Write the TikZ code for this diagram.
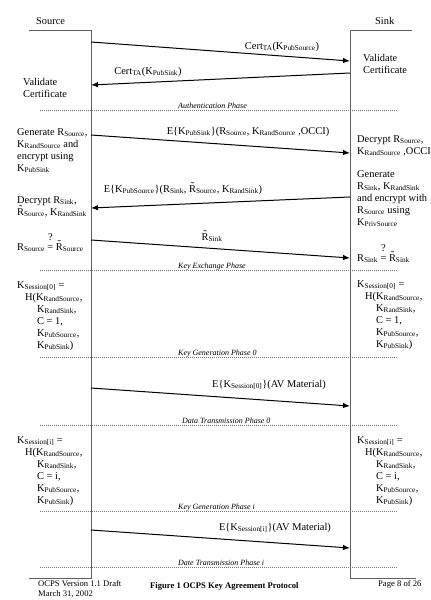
\documentclass[tikz,border=0pt]{standalone}
\usepackage{fontspec}
\setmainfont{Liberation Serif}
\usetikzlibrary{arrows.meta}
\newcommand\sbs[1]{\textsubscript{#1}}
\newcommand\tR{\ooalign{R\cr\hidewidth\raisebox{0.22em}{\char"02DC}\hidewidth\cr}}
\newcommand\qeq{\ooalign{=\cr\hidewidth\raisebox{0.95em}{?}\hidewidth\cr}}
\definecolor{lifegray}{RGB}{95,95,95}
\definecolor{phasegray}{RGB}{120,120,120}
\tikzset{
  life/.style={draw=lifegray, line width=0.9pt},
  msg/.style={draw=black, line width=1pt, -{Latex[length=7pt,width=5.5pt]}},
  phase/.style={draw=phasegray, line width=0.6pt, dash pattern=on 1pt off 1pt},
  txt/.style={font=\fontsize{10.4}{12}\selectfont, inner sep=0pt, align=left, anchor=north west},
  txtb/.style={font=\fontsize{10.4}{12}\selectfont, inner sep=0pt, anchor=base west},
  mlbl/.style={font=\fontsize{10.4}{12}\selectfont, inner sep=0pt, anchor=base},
  plbl/.style={font=\fontsize{8}{9}\selectfont\itshape, inner sep=0pt, anchor=base west},
  foot/.style={font=\fontsize{8.6}{10}\selectfont, inner sep=0pt, anchor=base west, align=left},
}
\begin{document}
\begin{tikzpicture}[x=1pt,y=-1pt]
\useasboundingbox[fill=white] (0,0) rectangle (431,600);

% headers
\node[txtb] (hsrc) at (36,24) {Source};
\node[txtb] (hsnk) at (375,24) {Sink};

% lifelines
\coordinate (srcTL) at (29,30); \coordinate (srcT) at (91,30);
\coordinate (srcB) at (91,578); \coordinate (srcBL) at (29,578);
\coordinate (snkT) at (350,30); \coordinate (snkTR) at (412,30);
\coordinate (snkB) at (350,578); \coordinate (snkBR) at (416,578);
\draw[life] (srcTL) -- (srcT) -- (srcB) -- (srcBL);
\draw[life] (snkTR) -- (snkT) -- (snkB) -- (snkBR);

% message end points
\coordinate (m1s) at (91,42);  \coordinate (m1e) at (350,61);
\coordinate (m2s) at (350,73); \coordinate (m2e) at (91,85);
\coordinate (m3s) at (91,135); \coordinate (m3e) at (350,153);
\coordinate (m4s) at (350,197); \coordinate (m4e) at (91,208);
\coordinate (m5s) at (91,240); \coordinate (m5e) at (350,258);
\coordinate (m6s) at (91,388); \coordinate (m6e) at (350,406);
\coordinate (m7s) at (91,530); \coordinate (m7e) at (350,548);
\draw[msg] (m1s) -- (m1e);
\draw[msg] (m2s) -- (m2e);
\draw[msg] (m3s) -- (m3e);
\draw[msg] (m4s) -- (m4e);
\draw[msg] (m5s) -- (m5e);
\draw[msg] (m6s) -- (m6e);
\draw[msg] (m7s) -- (m7e);

% message labels
\node[mlbl] (l1) at (282,49) {Cert\sbs{TA}(K\sbs{PubSource})};
\node[mlbl] (l2) at (148,74) {Cert\sbs{TA}(K\sbs{PubSink})};
\node[mlbl] (l3) at (248,134) {E\{K\sbs{PubSink}\}(R\sbs{Source}, K\sbs{RandSource} ,OCCI)};
\node[mlbl] (l4) at (183,192) {E\{K\sbs{PubSource}\}(R\sbs{Sink}, \tR\sbs{Source}, K\sbs{RandSink})};
\node[mlbl] (l5) at (212,240) {\tR\sbs{Sink}};
\node[mlbl] (l6) at (269,387) {E\{K\sbs{Session[0]}\}(AV Material)};
\node[mlbl] (l7) at (275,530) {E\{K\sbs{Session[i]}\}(AV Material)};

% phase lines
\coordinate (p1l) at (40,110); \coordinate (p1r) at (398,110);
\coordinate (p2l) at (40,270); \coordinate (p2r) at (398,270);
\coordinate (p3l) at (40,357); \coordinate (p3r) at (398,357);
\coordinate (p4l) at (40,425); \coordinate (p4r) at (398,425);
\coordinate (p5l) at (40,511); \coordinate (p5r) at (398,511);
\coordinate (p6l) at (40,567); \coordinate (p6r) at (398,567);
\draw[phase] (p1l) -- (p1r);
\draw[phase] (p2l) -- (p2r);
\draw[phase] (p3l) -- (p3r);
\draw[phase] (p4l) -- (p4r);
\draw[phase] (p5l) -- (p5r);
\draw[phase] (p6l) -- (p6r);
\node[plbl] (ph1) at (178,108) {Authentication Phase};
\node[plbl] (ph2) at (178,268) {Key Exchange Phase};
\node[plbl] (ph3) at (178,355) {Key Generation Phase 0};
\node[plbl] (ph4) at (182,423) {Data Transmission Phase 0};
\node[plbl] (ph5) at (178,509) {Key Generation Phase i};
\node[plbl] (ph6) at (178,565) {Date Transmission Phase i};

% source side texts
\node[txt] (s1) at (23,78) {Validate\\Certificate};
\node[txt] (s2) at (17,128) {Generate R\sbs{Source},\\K\sbs{RandSource} and\\encrypt using\\K\sbs{PubSink}};
\node[txt] (s3) at (17,196) {Decrypt R\sbs{Sink},\\\tR\sbs{Source}, K\sbs{RandSink}};
\node[txtb] (s4) at (17,250) {R\sbs{Source} \qeq{} \tR\sbs{Source}};
\node[txt] (s5) at (17,281) {K\sbs{Session[0]} =\\\hspace*{8pt}H(K\sbs{RandSource},\\\hspace*{20pt}K\sbs{RandSink},\\\hspace*{20pt}C = 1,\\\hspace*{20pt}K\sbs{PubSource},\\\hspace*{20pt}K\sbs{PubSink})};
\node[txt] (s6) at (17,436) {K\sbs{Session[i]} =\\\hspace*{8pt}H(K\sbs{RandSource},\\\hspace*{20pt}K\sbs{RandSink},\\\hspace*{20pt}C = i,\\\hspace*{20pt}K\sbs{PubSource},\\\hspace*{20pt}K\sbs{PubSink})};

% sink side texts
\node[txt] (k1) at (363,54) {Validate\\Certificate};
\node[txt] (k2) at (357,135) {Decrypt R\sbs{Source},\\K\sbs{RandSource} ,OCCI};
\node[txt] (k3) at (357,170) {Generate\\R\sbs{Sink}, K\sbs{RandSink}\\and encrypt with\\R\sbs{Source} using\\K\sbs{PrivSource}};
\node[txtb] (k4) at (357,261) {R\sbs{Sink} \qeq{} \tR\sbs{Sink}};
\node[txt] (k5) at (357,280) {K\sbs{Session[0]} =\\\hspace*{8pt}H(K\sbs{RandSource},\\\hspace*{19pt}K\sbs{RandSink},\\\hspace*{19pt}C = 1,\\\hspace*{19pt}K\sbs{PubSource},\\\hspace*{19pt}K\sbs{PubSink})};
\node[txt] (k6) at (357,436) {K\sbs{Session[i]} =\\\hspace*{8pt}H(K\sbs{RandSource},\\\hspace*{19pt}K\sbs{RandSink},\\\hspace*{19pt}C = i,\\\hspace*{19pt}K\sbs{PubSource},\\\hspace*{19pt}K\sbs{PubSink})};

% footer
\node[foot] (f1) at (38,586) {OCPS Version 1.1 Draft};
\node[foot] (f2) at (38,596) {March 31, 2002};
\node[foot, font=\fontsize{8.6}{10}\selectfont\bfseries] (f3) at (150,588) {Figure 1 OCPS Key Agreement Protocol};
\node[foot] (f4) at (378,586) {Page 8 of 26};
\end{tikzpicture}
\end{document}
